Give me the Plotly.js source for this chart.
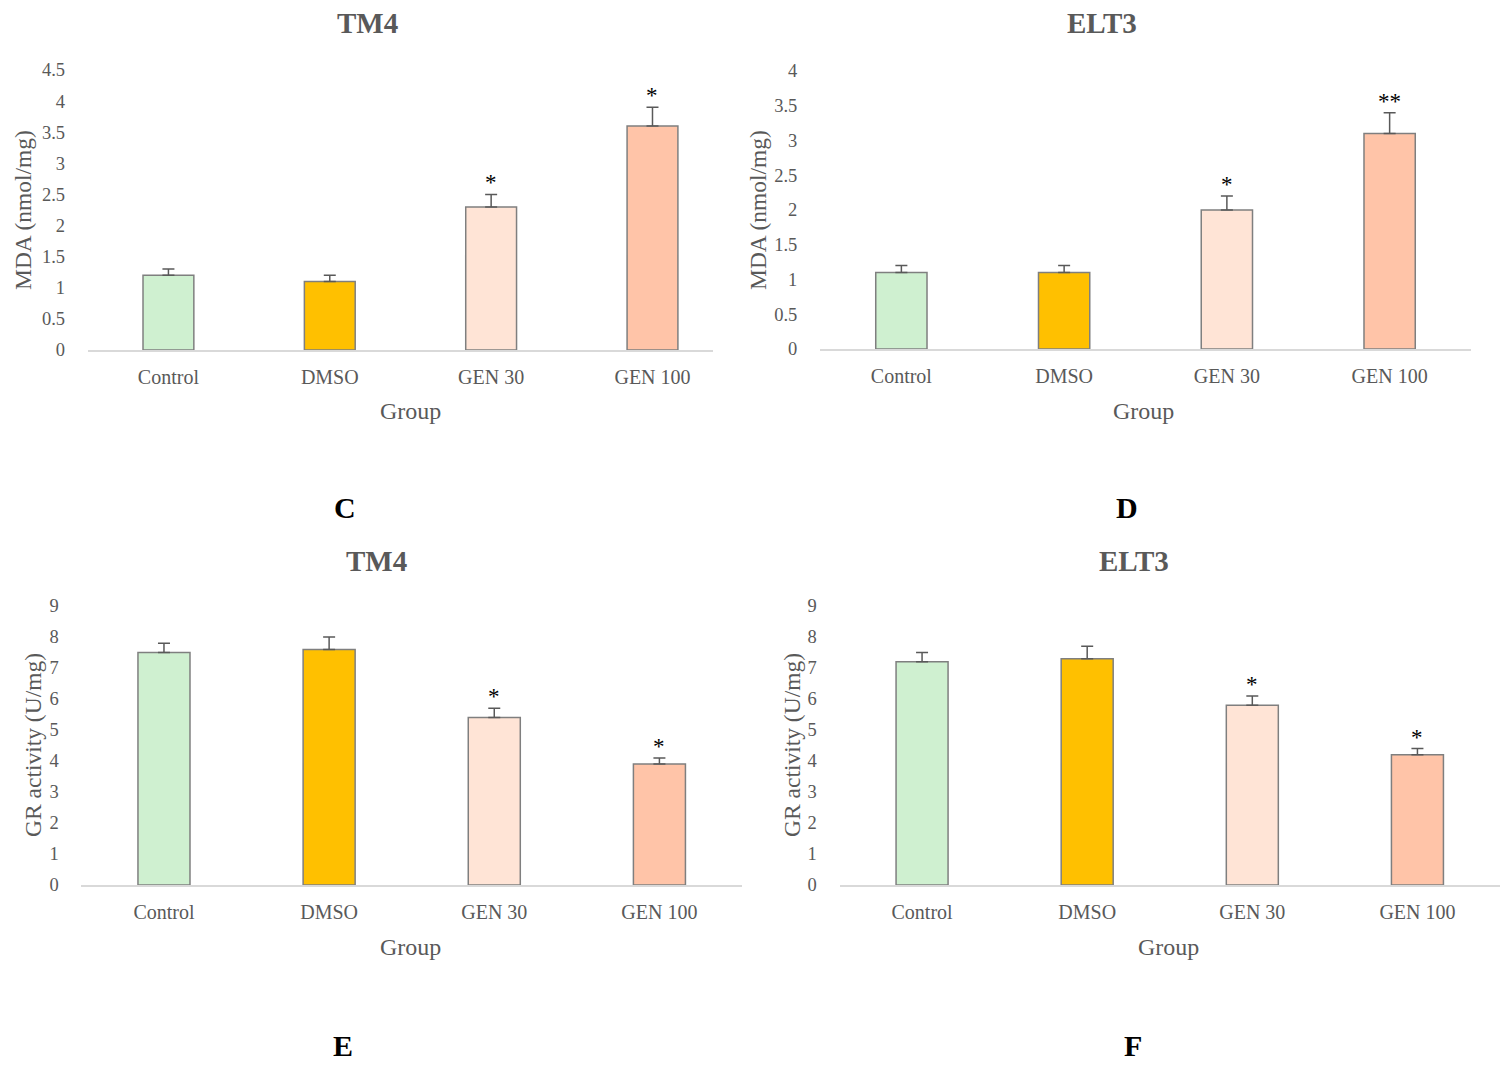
<!DOCTYPE html>
<html>
<head>
<meta charset="utf-8">
<script src="https://cdn.plot.ly/plotly-3.0.1.min.js"></script>
<style>
  html, body { margin: 0; padding: 0; background: #fff; }
  #chart { width: 1507px; height: 1065px; }
</style>
</head>
<body>
<div id="chart"></div>
<script>
const categories = ['Control', 'DMSO', 'GEN 30', 'GEN 100']
const barColors = ['#CFF0D0', '#FFC000', '#FFE4D6', '#FFC4A8']

const mdaTM4 = [1.2, 1.1, 2.3, 3.6]
const mdaTM4Err = [0.1, 0.1, 0.2, 0.3]
const mdaTM4Stars = ['', '', '*', '*']

const mdaELT3 = [1.1, 1.1, 2.0, 3.1]
const mdaELT3Err = [0.1, 0.1, 0.2, 0.3]
const mdaELT3Stars = ['', '', '*', '**']

const grTM4 = [7.5, 7.6, 5.4, 3.9]
const grTM4Err = [0.3, 0.4, 0.3, 0.2]
const grTM4Stars = ['', '', '*', '*']

const grELT3 = [7.2, 7.3, 5.8, 4.2]
const grELT3Err = [0.3, 0.4, 0.3, 0.2]
const grELT3Stars = ['', '', '*', '*']

const panelTitles = ['TM4', 'ELT3', 'TM4', 'ELT3']
const panelLetters = ['C', 'D', 'E', 'F']
const yTitles = ['MDA (nmol/mg)', 'MDA (nmol/mg)', 'GR activity (U/mg)', 'GR activity (U/mg)']
const xTitle = 'Group'

const W = 1507
const H = 1065
const FONT = 'Liberation Serif, Times New Roman, serif'
const GREY = '#595959'

// px -> paper
const px = x => x / W
const py = y => 1 - y / H

const panels = [
  { values: mdaTM4, err: mdaTM4Err, stars: mdaTM4Stars, xdom: [87.75, 713], ydom: [350, 70], xrange: [-0.5, 3.375], yrange: [0, 4.5], dtick: 0.5,
    title: [367, 23], group: [410, 411], ytitle: [23, 210], letter: [345, 508] },
  { values: mdaELT3, err: mdaELT3Err, stars: mdaELT3Stars, xdom: [820, 1471], ydom: [349, 71], xrange: [-0.5, 3.5], yrange: [0, 4], dtick: 0.5,
    title: [1102, 23], group: [1143, 411], ytitle: [758, 210], letter: [1127, 508] },
  { values: grTM4, err: grTM4Err, stars: grTM4Stars, xdom: [81.4, 742], ydom: [885, 606], xrange: [-0.5, 3.5], yrange: [0, 9], dtick: 1,
    title: [376, 561], group: [410, 947], ytitle: [33, 745], letter: [343, 1045] },
  { values: grELT3, err: grELT3Err, stars: grELT3Stars, xdom: [839.5, 1500], ydom: [885, 606], xrange: [-0.5, 3.5], yrange: [0, 9], dtick: 1,
    title: [1134, 561], group: [1168, 947], ytitle: [792, 745], letter: [1133, 1045] }
]

const traces = []
const annotations = []
const layout = {
  width: W,
  height: H,
  margin: { l: 0, r: 0, t: 0, b: 0 },
  paper_bgcolor: '#fff',
  plot_bgcolor: '#fff',
  showlegend: false,
  bargap: 0.685,
  font: { family: FONT, color: GREY }
}

// centred text placed at a pixel position of the figure
function label (xy, text, size, color, angle) {
  return {
    xref: 'paper', yref: 'paper', x: px(xy[0]), y: py(xy[1]),
    xanchor: 'center', yanchor: 'middle',
    text: text, showarrow: false, textangle: angle || 0,
    font: { family: FONT, size: size, color: color }
  }
}

panels.forEach((p, i) => {
  const n = i + 1
  const xa = n === 1 ? 'x' : 'x' + n
  const ya = n === 1 ? 'y' : 'y' + n

  traces.push({
    type: 'bar',
    x: categories,
    y: p.values,
    xaxis: xa,
    yaxis: ya,
    marker: { color: barColors, line: { color: '#7F7F7F', width: 1.5 } },
    error_y: {
      type: 'data',
      symmetric: false,
      array: p.err,
      arrayminus: p.err.map(() => 0),
      color: GREY,
      thickness: 1.5,
      width: 6
    },
    hoverinfo: 'x+y'
  })

  layout['xaxis' + (n === 1 ? '' : n)] = {
    domain: [px(p.xdom[0]), px(p.xdom[1])],
    anchor: ya,
    range: p.xrange,
    type: 'category',
    showline: true,
    linecolor: '#D9D9D9',
    linewidth: 1.5,
    showgrid: false,
    zeroline: false,
    ticks: 'outside',
    ticklen: 8,
    tickcolor: 'rgba(0,0,0,0)',
    tickfont: { family: FONT, size: 20, color: GREY }
  }
  layout['yaxis' + (n === 1 ? '' : n)] = {
    domain: [py(p.ydom[0]), py(p.ydom[1])],
    anchor: xa,
    range: p.yrange,
    dtick: p.dtick,
    showline: false,
    showgrid: false,
    zeroline: false,
    ticks: 'outside',
    ticklen: 18,
    tickcolor: 'rgba(0,0,0,0)',
    tickfont: { family: FONT, size: 18.5, color: GREY }
  }

  // significance stars
  p.stars.forEach((s, k) => {
    if (!s) return
    annotations.push({
      xref: xa, yref: ya, x: categories[k], y: p.values[k] + p.err[k],
      xanchor: 'center', text: s, showarrow: false, yanchor: 'bottom', yshift: -3,
      font: { family: FONT, size: 23, color: '#000' }
    })
  })

  annotations.push(label(p.title, '<b>' + panelTitles[i] + '</b>', 29, GREY))
  annotations.push(label(p.group, xTitle, 24, GREY))
  annotations.push(label(p.ytitle, yTitles[i], 23.5, GREY, -90))
  annotations.push(label(p.letter, '<b>' + panelLetters[i] + '</b>', 30, '#000'))
})

layout.annotations = annotations

Plotly.newPlot('chart', traces, layout, { displayModeBar: false, staticPlot: true })
</script>
</body>
</html>
